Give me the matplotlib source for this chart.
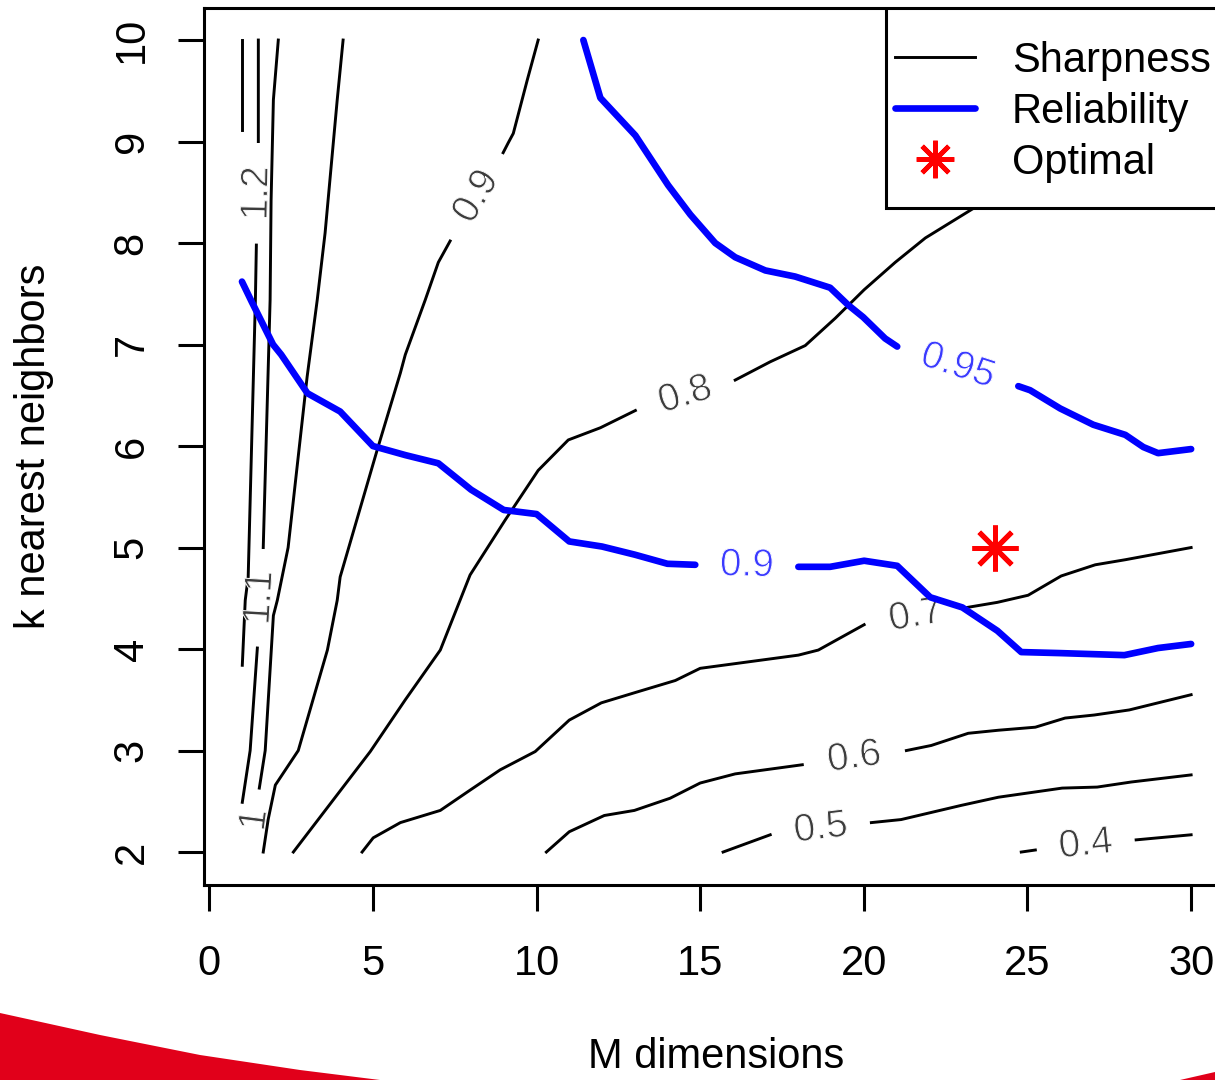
import numpy as np
import matplotlib
matplotlib.use("Agg")
import matplotlib.pyplot as plt
import matplotlib.patheffects as pe
from matplotlib.lines import Line2D
from matplotlib.markers import MarkerStyle
from matplotlib.patches import Polygon, Rectangle

nan = np.nan

# sharpness contours (M, k); nan = gap where the level label sits
c13_x = [1.0, 1.0]
c13_y = [10.0, 9.11]
c12_x = [1.5, 1.5, nan, 1.44, 1.41, 1.19, 1.10, 1.01]
c12_y = [10.0, 9.0, nan, 7.98, 7.44, 4.71, 4.48, 3.84]
c11_x = [2.11, 1.96, 1.89, 1.86, 1.65, nan, 1.47, 1.25, 1.01]
c11_y = [10.0, 9.41, 8.42, 7.44, 5.0, nan, 4.01, 3.0, 2.49]
c10_x = [4.09, 3.91, 3.54, 3.30, 2.99, 2.41, 2.08, 1.96, 1.71, 1.53, nan, 1.28]
c10_y = [10.0, 9.41, 8.10, 7.44, 6.68, 5.0, 4.48, 4.33, 3.0, 2.63, nan, 2.0]
c09_x = [10.05, 9.72, 9.29, 9.14, 8.98, nan, 7.36, 7.0, 6.6, 5.99, 5.84, 5.13,
         4.0, 3.91, 3.61, 2.72, 2.02, 1.8, 1.65]
c09_y = [10.0, 9.61, 9.08, 8.99, 8.89, nan, 8.02, 7.81, 7.44, 6.9, 6.72, 5.96,
         4.71, 4.48, 3.99, 3.0, 2.66, 2.32, 2.0]
c08_x = [25.0, 23.34, 21.88, 20.96, 20.01, 19.13, 18.21, 17.14, 16.07, nan,
         13.02, 11.95, 10.97, 10.05, 9.04, 7.97, 7.06, 5.99, 4.92, 2.57]
c08_y = [8.62, 8.34, 8.05, 7.81, 7.54, 7.26, 6.99, 6.83, 6.65, nan,
         6.35, 6.18, 6.06, 5.76, 5.27, 4.73, 3.99, 3.5, 2.99, 2.0]
c07_x = [30.0, 27.99, 27.07, 26.03, 25.02, 24.08, 23.16, nan, 20.01, 18.61, 18.0,
         15.0, 14.24, 13.0, 11.98, 11.0, 9.96, 8.89, 7.97, 7.06, 5.84, 5.01, 4.67]
c07_y = [5.0, 4.88, 4.83, 4.72, 4.53, 4.46, 4.41, nan, 4.24, 3.99, 3.94,
         3.81, 3.69, 3.57, 3.47, 3.30, 2.99, 2.81, 2.61, 2.41, 2.29, 2.14, 2.0]
c06_x = [10.30, 11.0, 12.07, 12.99, 14.08, 15.0, 16.07, 18.12, nan,
         21.3, 22.06, 23.19, 24.11, 25.24, 26.15, 27.04, 28.11, 30.0]
c06_y = [2.0, 2.20, 2.36, 2.41, 2.53, 2.68, 2.77, 2.86, nan,
         3.0, 3.05, 3.17, 3.20, 3.23, 3.32, 3.35, 3.40, 3.55]
c05_x = [15.7, 17.14, nan, 20.23, 21.14, 22.98, 24.11, 26.06, 27.13, 28.17, 30.0]
c05_y = [2.0, 2.17, nan, 2.29, 2.32, 2.46, 2.54, 2.63, 2.64, 2.69, 2.76]
c04_x = [24.81, 25.24, nan, 28.32, 30.0]
c04_y = [2.0, 2.02, nan, 2.12, 2.17]

sharp_labels = [None, "1.2", "1.1", "1", "0.9", "0.8", "0.7", "0.6", "0.5", "0.4"]
sharp_x = [c13_x, c12_x, c11_x, c10_x, c09_x, c08_x, c07_x, c06_x, c05_x, c04_x]
sharp_y = [c13_y, c12_y, c11_y, c10_y, c09_y, c08_y, c07_y, c06_y, c05_y, c04_y]

# reliability contours
r095_x = [11.43, 11.95, 13.02, 14.02, 14.70, 15.46, 16.07, 16.99, 17.90, 18.97,
          19.52, 19.98, 20.65, 21.02, nan, 24.72, 25.08, 26.0, 27.01, 27.99,
          28.54, 28.99, 30.0]
r095_y = [10.0, 9.43, 9.06, 8.57, 8.28, 8.0, 7.86, 7.73, 7.67, 7.56,
          7.39, 7.27, 7.06, 6.98, nan, 6.59, 6.55, 6.37, 6.21, 6.11,
          5.99, 5.93, 5.97]
r090_x = [1.0, 1.3, 1.95, 2.2, 3.0, 4.0, 5.0, 6.0, 7.0, 8.0, 9.0, 10.0, 11.0,
          12.0, 13.0, 14.0, 14.85, nan, 18.0, 18.97, 20.01, 21.02, 22.03, 23.01,
          24.08, 24.81, 26.0, 27.96, 28.99, 30.0]
r090_y = [7.62, 7.42, 7.0, 6.9, 6.52, 6.34, 6.0, 5.91, 5.83, 5.57, 5.37, 5.33, 5.06,
          5.01, 4.93, 4.84, 4.83, nan, 4.81, 4.81, 4.87, 4.82, 4.51, 4.41,
          4.18, 3.97, 3.96, 3.94, 4.01, 4.05]
rel_labels = ["0.95", "0.9"]
rel_x = [r095_x, r090_x]
rel_y = [r095_y, r090_y]

opt_m, opt_k = 24, 5

W, H = 1215, 1080
plt.rcParams['font.family'] = ['Liberation Sans', 'DejaVu Sans']
fig = plt.figure(figsize=(W / 100, H / 100), dpi=100)
ax = fig.add_axes([0.1679, 0.1810, 0.8437, 0.8120])
ax.set_xlim(-0.16, 31.16)
ax.set_ylim(1.68, 10.32)


def label_gaps(xs, ys, text, color, z):
    xs = np.asarray(xs, float)
    ys = np.asarray(ys, float)
    for i in np.where(np.isnan(xs))[0]:
        p0 = ax.transData.transform((xs[i - 1], ys[i - 1]))
        p1 = ax.transData.transform((xs[i + 1], ys[i + 1]))
        ang = np.degrees(np.arctan2(p1[1] - p0[1], p1[0] - p0[0]))
        if ang > 90:
            ang -= 180
        if ang < -90:
            ang += 180
        ax.text((xs[i - 1] + xs[i + 1]) / 2, (ys[i - 1] + ys[i + 1]) / 2, text,
                rotation=ang, rotation_mode='anchor', ha='center', va='center',
                fontsize=28, color=color, zorder=z,
                path_effects=[pe.Normal(), pe.Stroke(linewidth=0.7, foreground='white')])


for xs, ys, lab in zip(sharp_x, sharp_y, sharp_labels):
    ax.plot(xs, ys, color='black', lw=2.1, zorder=2)
    if lab:
        label_gaps(xs, ys, lab, '#3c3c3c', 2.5)

for xs, ys, lab in zip(rel_x, rel_y, rel_labels):
    ax.plot(xs, ys, color='blue', lw=4.8, solid_capstyle='round',
            solid_joinstyle='round', zorder=3)
    label_gaps(xs, ys, lab, '#3a3aff', 3.5)

star = MarkerStyle((8, 2, 0), capstyle='round')
ax.plot([opt_m], [opt_k], ls='none', marker=star, ms=33, mew=3.6, color='red', zorder=4)

# legend
ax.add_patch(Rectangle((0.6654, 0.7714), 0.3346, 0.2286, transform=ax.transAxes,
                       facecolor='white', edgecolor='black', lw=2.2, zorder=5))
handles = [Line2D([], [], color='black', lw=2.1),
           Line2D([], [], color='blue', lw=4.8, solid_capstyle='round'),
           Line2D([], [], ls='none', marker=star, ms=27, mew=3.4, color='red')]
leg = ax.legend(handles, ['Sharpness', 'Reliability', 'Optimal'], loc='upper left',
                bbox_to_anchor=(0.6741, 0.9618), frameon=False, fontsize=30,
                borderpad=0, borderaxespad=0, handlelength=1.92,
                handletextpad=0.89, labelspacing=0.26)
leg.set_zorder(6)

for s in ax.spines.values():
    s.set_linewidth(2.2)
ax.set_xticks(range(0, 31, 5))
ax.set_yticks(range(2, 11))
ax.tick_params(direction='out', length=18.7, width=2.2, labelsize=30)
ax.tick_params(axis='x', pad=24)
ax.tick_params(axis='y', pad=19, labelrotation=90)
for t in ax.get_yticklabels():
    t.set_verticalalignment('center')

ax.set_xlabel('M dimensions', fontsize=30)
ax.xaxis.set_label_coords(0.5, -0.1739)
ax.set_ylabel('k nearest neighbors', fontsize=30)
ax.yaxis.set_label_coords(-0.146, 0.5)

# red slide decoration in the corners
red = '#e1001a'
swoosh = [(0, 1013), (100, 1035), (200, 1055), (300, 1070), (380, 1080), (0, 1080)]
corner = [(1180, 1080), (1215, 1072), (1215, 1080)]
for pts in (swoosh, corner):
    fig.add_artist(Polygon([(x / W, 1 - y / H) for x, y in pts], closed=True,
                           transform=fig.transFigure, facecolor=red, edgecolor='none'))

fig.savefig('out.png', dpi=100)
